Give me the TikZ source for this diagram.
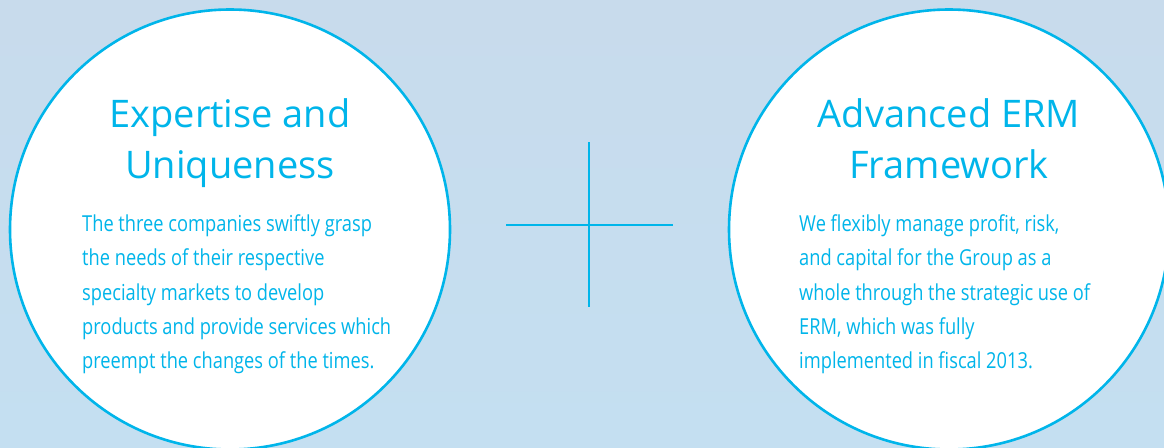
\documentclass[tikz,border=0pt]{standalone}
\usepackage{fontspec}
\setmainfont{Open Sans}
\newfontfamily\bodyfont[FakeStretch=0.83]{Open Sans}
\usetikzlibrary{positioning}
\definecolor{ermcyan}{HTML}{00B5EA}
\definecolor{skytop}{HTML}{C8DBEC}
\definecolor{skybottom}{HTML}{C4DFF1}

\begin{document}
\begin{tikzpicture}[x=1pt, y=-1pt,
    bubble/.style={circle, draw=ermcyan, line width=2.6pt, fill=white,
        minimum size=440pt, inner sep=0pt},
    heading/.style={text=ermcyan, align=center, inner sep=0pt,
        font=\fontsize{38}{51}\selectfont},
    blurb/.style={text=ermcyan, align=left, inner sep=0pt, anchor=north west,
        font=\bodyfont\fontsize{22}{34.3}\selectfont},
    crossline/.style={draw=ermcyan, line width=2pt}]
    % Hintergrund
    \useasboundingbox (0,0) rectangle (1164,447);
    \clip (0,0) rectangle (1164,447);
    \shade[top color=skytop, bottom color=skybottom] (0,0) rectangle (1164,447);

    % Die beiden Kreise
    \node[bubble] (expert) at (230,229.5) {};
    \node[bubble] (erm) at (949,229.5) {};

    % Ueberschriften (base = Grundlinie der zweiten Zeile)
    \node[heading, anchor=base] (experttitle) at (230,178)
        {Expertise and\\Uniqueness};
    \node[heading, anchor=base] (ermtitle) at (949,178)
        {Advanced ERM\\Framework};

    % Texte
    \node[blurb] (experttext) at (82,214.5)
        {The three companies swiftly grasp\\
         the needs of their respective\\
         specialty markets to develop\\
         products and provide services which\\
         preempt the changes of the times.};
    \node[blurb] (ermtext) at (799,214.5)
        {We flexibly manage profit, risk,\\
         and capital for the Group as a\\
         whole through the strategic use of\\
         ERM, which was fully\\
         implemented in fiscal 2013.};

    % Pluszeichen
    \draw[crossline] (589,142) -- (589,307);
    \draw[crossline] (506,225) -- (673,225);
\end{tikzpicture}
\end{document}
